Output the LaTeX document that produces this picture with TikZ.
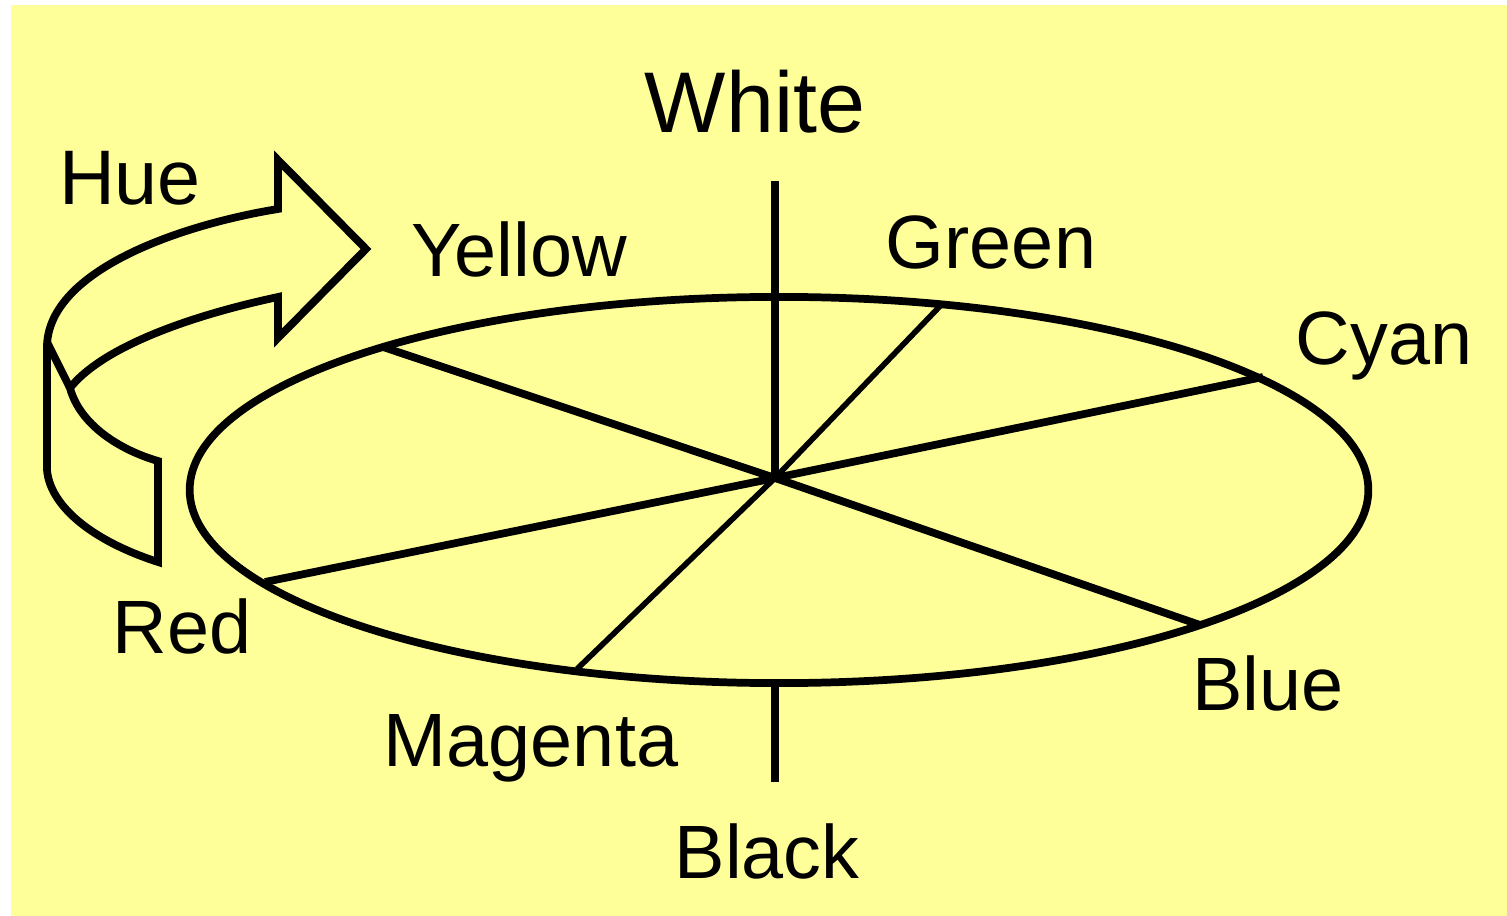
\documentclass[tikz,border=0pt]{standalone}
\usepackage{fontspec}
\setmainfont{Liberation Sans}
\usepackage{xcolor}
\usepackage{tikz}
\definecolor{huepaper}{HTML}{FFFF99}

\begin{document}
\begin{tikzpicture}[x=0.01cm, y=-0.01cm,
    lbl/.style={inner sep=0pt, anchor=base, font=\fontsize{21.5}{24}\selectfont},
    biglbl/.style={lbl, font=\fontsize{24.5}{28}\selectfont},
    rim/.style={line width=2.2pt, line join=miter},
    spoke/.style={line width=2.2pt},
    thinspoke/.style={line width=1.6pt}]
  \useasboundingbox (0,0) rectangle (1507,916);
  \fill[huepaper] (11,5) rectangle (1507,916);
  % wheel
  \coordinate (o) at (775,478);
  \coordinate (top) at (775,181);
  \coordinate (bot) at (775,682);
  \coordinate (foot) at (775,782);
  \coordinate (yel) at (383,347);
  \coordinate (grn) at (943,303);
  \coordinate (cya) at (1263,377);
  \coordinate (blu) at (1200,625);
  \coordinate (mag) at (577,669);
  \coordinate (red) at (265,582);
  \draw[rim] (779,490) ellipse [x radius=5.89cm, y radius=1.93cm];
  \draw[spoke] (top) -- (o);
  \draw[spoke] (bot) -- (foot);
  \draw[spoke] (yel) -- (o);
  \draw[spoke] (red) -- (o);
  \draw[spoke] (cya) -- (o);
  \draw[spoke] (blu) -- (o);
  \draw[thinspoke] (grn) -- (o);
  \draw[thinspoke] (mag) -- (o);
  % hue arrow
  \draw[rim] (158,562) .. controls (90,540) and (50,505) .. (47,470)
    -- (47,345) .. controls (50,270) and (180,225) .. (278,209)
    -- (278,160) -- (366,249) -- (278,338) -- (278,297)
    .. controls (180,318) and (100,350) .. (70,388)
    .. controls (80,425) and (120,450) .. (158,461) -- cycle;
  \draw[rim] (47,342) -- (70,388);
  % labels
  \node[lbl, font=\fontsize{22}{26}\selectfont] (hue) at (130,205) {Hue};
  \node[biglbl] (white) at (755,133) {White};
  \node[lbl] (yellow) at (519,277) {Yellow};
  \node[lbl] (green) at (991,269) {Green};
  \node[lbl] (cyan) at (1384,365) {Cyan};
  \node[lbl] (redl) at (182,653) {Red};
  \node[lbl] (blue) at (1268,710) {Blue};
  \node[lbl] (magenta) at (531,766) {Magenta};
  \node[lbl] (black) at (767,878) {Black};
\end{tikzpicture}
\end{document}
